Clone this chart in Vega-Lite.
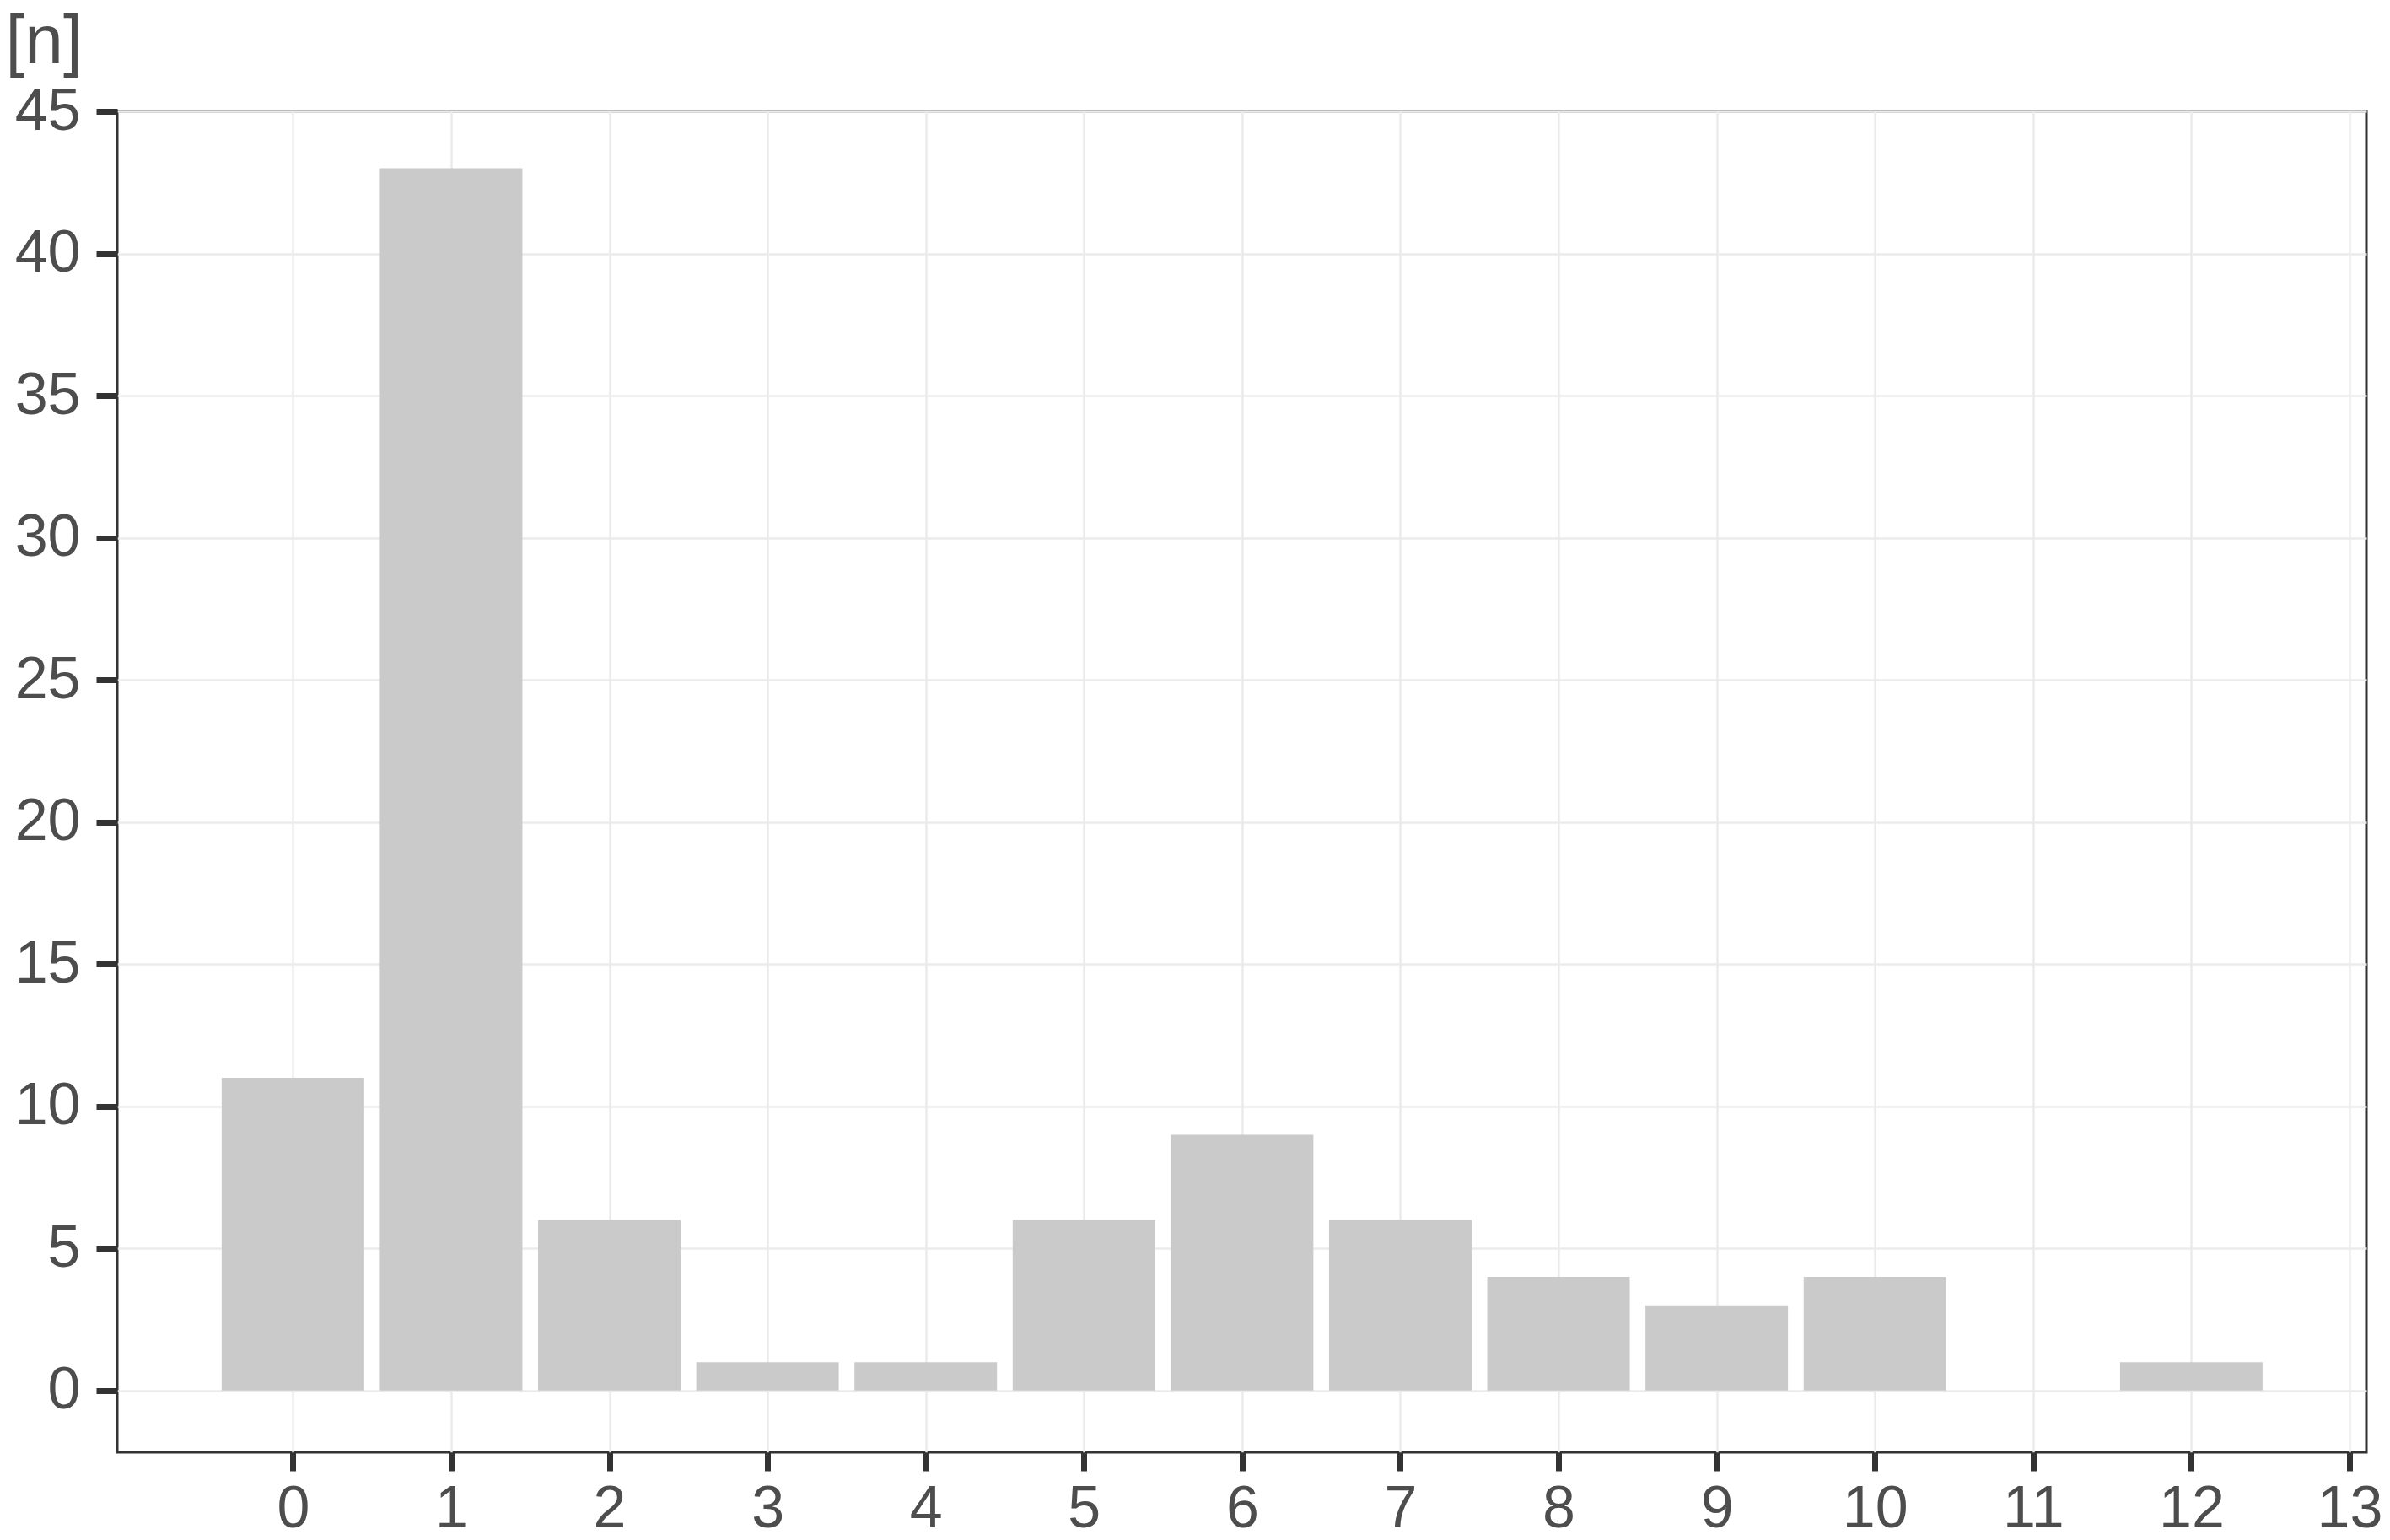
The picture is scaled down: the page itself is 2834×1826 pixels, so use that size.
{
  "$schema": "https://vega.github.io/schema/vega-lite/v6.json",
  "autosize": "none",
  "width": 2667,
  "height": 1590,
  "padding": {"left": 139, "top": 132, "right": 28, "bottom": 104},
  "background": "white",
  "config": {
    "view": {"stroke": "#333333", "strokeWidth": 3},
    "font": "Liberation Sans"
  },
  "data": {
    "values": [
      {"k": 0, "n": 11},
      {"k": 1, "n": 43},
      {"k": 2, "n": 6},
      {"k": 3, "n": 1},
      {"k": 4, "n": 1},
      {"k": 5, "n": 6},
      {"k": 6, "n": 9},
      {"k": 7, "n": 6},
      {"k": 8, "n": 4},
      {"k": 9, "n": 3},
      {"k": 10, "n": 4},
      {"k": 11, "n": 0},
      {"k": 12, "n": 1}
    ]
  },
  "mark": {"type": "bar", "width": 169, "color": "#CACACA"},
  "encoding": {
    "x": {
      "field": "k",
      "type": "quantitative",
      "scale": {"domain": [-1.084, 13.08], "nice": false, "zero": false},
      "axis": {
        "values": [0,1,2,3,4,5,6,7,8,9,10,11,12,13],
        "title": null,
        "domain": false,
        "grid": true,
        "gridColor": "#EBEBEB",
        "gridWidth": 2.5,
        "ticks": true,
        "tickColor": "#333333",
        "tickSize": 22,
        "tickWidth": 7,
        "labelFontSize": 70,
        "labelColor": "#4D4D4D",
        "labelPadding": 11,
        "labelFlush": false,
        "labelOverlap": false
      }
    },
    "y": {
      "field": "n",
      "type": "quantitative",
      "scale": {"domain": [-2.17, 45], "nice": false, "zero": false},
      "axis": {
        "values": [0,5,10,15,20,25,30,35,40,45],
        "title": "[n]",
        "titleAngle": 0,
        "titleX": -133,
        "titleY": -58,
        "titleAlign": "left",
        "titleBaseline": "alphabetic",
        "titleFontSize": 82,
        "titleFontWeight": "normal",
        "titleColor": "#4D4D4D",
        "domain": false,
        "grid": true,
        "gridColor": "#EBEBEB",
        "gridWidth": 2.5,
        "ticks": true,
        "tickColor": "#333333",
        "tickSize": 25,
        "tickWidth": 7,
        "labelFontSize": 70,
        "labelColor": "#4D4D4D",
        "labelPadding": 19,
        "labelFlush": false,
        "labelOverlap": false
      }
    },
    "y2": {"datum": 0}
  }
}
